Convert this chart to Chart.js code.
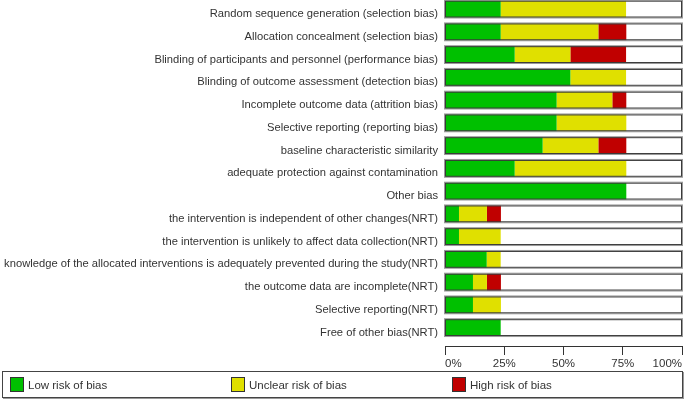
<!DOCTYPE html>
<html>
<head>
<meta charset="utf-8">
<script src="https://cdn.jsdelivr.net/npm/chart.js@4.4.1/dist/chart.umd.min.js"></script>
<style>
  html, body { margin: 0; padding: 0; background: #fff; }
  body { width: 685px; height: 401px; position: relative; overflow: hidden; font-family: "Liberation Sans", Arial, sans-serif; }
  #wrap { position: absolute; left: 0; top: -16px; width: 685px; height: 417px; }
  #legend { position: absolute; left: 2px; top: 371px; width: 679px; height: 25px; border: 1px solid #444; box-shadow: 1px 1px 0 #999; }
  .item { position: absolute; top: 5px; font-size: 11.5px; color: #333; line-height: 14px; }
  .item span.sw { position: absolute; left: 0; top: 0; width: 12px; height: 13px; border: 1px solid #333; }
  .item span.tx { position: absolute; left: 18px; top: 1px; white-space: nowrap; }
</style>
</head>
<body>
<div id="wrap"><canvas id="rob"></canvas></div>
<div id="legend"></div>
<script>
(function () {
    'use strict';

    var categories = [
        'Random sequence generation (selection bias)',
        'Allocation concealment (selection bias)',
        'Blinding of participants and personnel (performance bias)',
        'Blinding of outcome assessment (detection bias)',
        'Incomplete outcome data (attrition bias)',
        'Selective reporting (reporting bias)',
        'baseline characteristic similarity',
        'adequate protection against contamination',
        'Other bias',
        'the intervention is independent of other changes(NRT)',
        'the intervention is unlikely to affect data collection(NRT)',
        'knowledge of the allocated interventions is adequately prevented during the study(NRT)',
        'the outcome data are incomplete(NRT)',
        'Selective reporting(NRT)',
        'Free of other bias(NRT)'
    ];

    // percentages of studies
    var lowRisk = [23.5, 23.5, 29.4, 52.9, 47.1, 47.1, 41.2, 29.4, 76.5, 5.9, 5.9, 17.6, 11.8, 11.8, 23.5];
    var unclearRisk = [52.9, 41.2, 23.5, 23.5, 23.5, 29.4, 23.5, 47.1, 0, 11.8, 17.6, 5.9, 5.9, 11.8, 0];
    var highRisk = [0, 11.8, 23.5, 0, 5.9, 0, 11.8, 0, 0, 5.9, 0, 0, 5.9, 0, 0];

    var xTicks = [0, 25, 50, 75, 100];

    var textColor = '#333';
    var family = '"Liberation Sans", Arial, sans-serif';

    // white box with a frame behind every bar, 0% to 100%
    var barFrames = {
        id: 'barFrames',
        beforeDatasetsDraw: function (chart) {
            this._draw(chart, false);
        },
        afterDatasetsDraw: function (chart) {
            this._draw(chart, true);
        },
        _draw: function (chart, stroke) {
            var meta = chart.getDatasetMeta(0);
            var x = chart.scales.x;
            var x0 = x.getPixelForValue(xTicks[0]);
            var x1 = x.getPixelForValue(xTicks[xTicks.length - 1]);
            var ctx = chart.ctx;
            ctx.save();
            meta.data.forEach(function (bar) {
                var p = bar.getProps(['y', 'height'], true);
                var top = p.y - p.height / 2;
                if (stroke) {
                    ctx.strokeStyle = '#9a9a9a';
                    ctx.lineWidth = 1;
                    ctx.strokeRect(x0 - 0.5, top - 0.5, x1 - x0 + 1, p.height + 1);
                    ctx.strokeStyle = '#3a3a3a';
                    ctx.lineWidth = 1;
                    ctx.strokeRect(x0 + 0.5, top + 0.5, x1 - x0 - 1, p.height - 1);
                } else {
                    ctx.fillStyle = '#fff';
                    ctx.fillRect(x0, top, x1 - x0, p.height);
                }
            });
            ctx.restore();
        }
    };

    var chart = new Chart(document.getElementById('rob'), {
        type: 'bar',
        data: {
            labels: categories,
            datasets: [
                { label: 'Low risk of bias', data: lowRisk, backgroundColor: '#00c000' },
                { label: 'Unclear risk of bias', data: unclearRisk, backgroundColor: '#e0e000' },
                { label: 'High risk of bias', data: highRisk, backgroundColor: '#c00000' }
            ]
        },
        options: {
            indexAxis: 'y',
            responsive: true,
            maintainAspectRatio: false,
            animation: false,
            layout: { padding: { left: 0, right: 3, top: 0, bottom: 62 } },
            datasets: {
                bar: { barPercentage: 0.74, categoryPercentage: 1, borderWidth: 0 }
            },
            plugins: {
                legend: { display: false },
                tooltip: { enabled: false }
            },
            scales: {
                x: {
                    stacked: true,
                    min: 0,
                    max: 100,
                    position: { y: 14.85 },
                    afterBuildTicks: function (s) {
                        s.ticks = xTicks.map(function (v) { return { value: v }; });
                    },
                    ticks: {
                        align: 'inner',
                        padding: 2,
                        color: textColor,
                        font: { family: family, size: 11.5 },
                        maxRotation: 0,
                        callback: function (v) { return v + '%'; }
                    },
                    grid: { drawOnChartArea: false, tickLength: 8, color: '#333' },
                    border: { color: '#333', width: 1 }
                },
                y: {
                    stacked: true,
                    afterFit: function (s) { s.width = 445; },
                    ticks: { padding: 7, labelOffset: 5, color: textColor, font: { family: family, size: 11.2 }, autoSkip: false },
                    grid: { display: false, drawTicks: false },
                    border: { display: false }
                }
            }
        },
        plugins: [barFrames]
    });

    // legend box drawn as html, from the chart datasets
    var legendX = [7, 228, 449];
    var legend = document.getElementById('legend');
    chart.data.datasets.forEach(function (ds, i) {
        var item = document.createElement('div');
        item.className = 'item';
        item.style.left = legendX[i] + 'px';
        item.innerHTML = '<span class="sw" style="background:' + ds.backgroundColor + '"></span>' +
            '<span class="tx">' + ds.label + '</span>';
        legend.appendChild(item);
    });
}());
</script>
</body>
</html>
